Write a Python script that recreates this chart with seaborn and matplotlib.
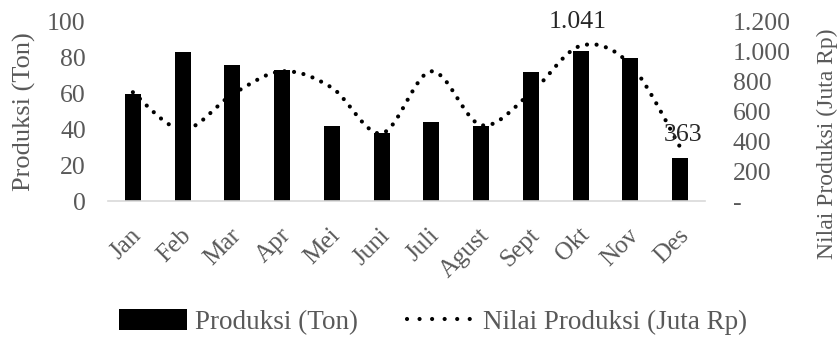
import numpy as np
import pandas as pd
import matplotlib
matplotlib.use("Agg")
import matplotlib.pyplot as plt
import seaborn as sns
from matplotlib.path import Path
from matplotlib.patches import PathPatch, Patch
from matplotlib.lines import Line2D
from matplotlib.ticker import FuncFormatter, MultipleLocator
from matplotlib.transforms import offset_copy

months = ["Jan", "Feb", "Mar", "Apr", "Mei", "Juni", "Juli", "Agust", "Sept", "Okt", "Nov", "Des"]
produksi = [60, 83, 76, 73, 42, 38, 44, 42, 72, 84, 80, 24]
nilai = [730, 480, 715, 870, 760, 455, 870, 510, 725, 1041, 915, 363]

sns.set_theme(style="white")
plt.rcParams["font.family"] = ["Liberation Serif", "DejaVu Serif"]
gray = "#595959"

fig = plt.figure(figsize=(8.4, 3.4), dpi=100)
ax = fig.add_axes([108 / 840, 1 - 201.3 / 340, 597 / 840, 179.3 / 340])

df = pd.DataFrame({"Bulan": months, "Produksi": produksi, "Nilai": nilai})
sns.barplot(data=df, x="Bulan", y="Produksi", color="black", width=0.32,
            saturation=1, ax=ax, edgecolor="none")
ax.set_ylim(0, 100)
ax.set_xlim(-0.5, 11.5)
ax.yaxis.set_major_locator(MultipleLocator(20))
ax.set_xlabel("")
ax.set_ylabel("Produksi (Ton)", fontsize=19, color=gray, labelpad=8)
for s in ["top", "right", "left"]:
    ax.spines[s].set_visible(False)
ax.spines["bottom"].set_color("#d9d9d9")
ax.spines["bottom"].set_linewidth(1.2)
ax.tick_params(axis="y", length=0, labelsize=18.5, labelcolor=gray, pad=16)
ax.tick_params(axis="x", length=0, labelsize=18, labelcolor=gray, pad=22)
for lbl in ax.get_xticklabels():
    lbl.set_rotation(45)
    lbl.set_ha("right")
    lbl.set_va("center")
    lbl.set_rotation_mode("anchor")
    lbl.set_transform(offset_copy(lbl.get_transform(), fig=fig, x=5, y=0, units="dots"))

ax2 = ax.twinx()
ax2.set_ylim(0, 1200)
ax2.yaxis.set_major_locator(MultipleLocator(200))
ax2.yaxis.set_major_formatter(FuncFormatter(
    lambda v, p: "-" if abs(v) < 1e-9 else f"{int(v):,}".replace(",", ".")))
for s in ["top", "right", "left", "bottom"]:
    ax2.spines[s].set_visible(False)
ax2.tick_params(axis="y", length=0, labelsize=18.5, labelcolor=gray, pad=20)
for lbl in ax2.get_yticklabels():
    lbl.set_ha("left")

# smooth (Excel-style) curve through the data points
xs = np.arange(len(nilai), dtype=float)
ys = np.array(nilai, dtype=float)
verts = [(xs[0], ys[0])]
codes = [Path.MOVETO]
n = len(xs)
for i in range(n - 1):
    p0 = np.array([xs[max(i - 1, 0)], ys[max(i - 1, 0)]])
    p1 = np.array([xs[i], ys[i]])
    p2 = np.array([xs[i + 1], ys[i + 1]])
    p3 = np.array([xs[min(i + 2, n - 1)], ys[min(i + 2, n - 1)]])
    c1 = p1 + (p2 - p0) / 6.0
    c2 = p2 - (p3 - p1) / 6.0
    verts += [tuple(c1), tuple(c2), tuple(p2)]
    codes += [Path.CURVE4, Path.CURVE4, Path.CURVE4]
patch = PathPatch(Path(verts, codes), fill=False, edgecolor="black",
                  linewidth=3.0, linestyle=(0, (0.01, 2.3)), capstyle="round")
ax2.add_patch(patch)

# data labels
fmt = lambda v: f"{int(v):,}".replace(",", ".")
ax2.annotate(fmt(nilai[9]), (9, nilai[9]), xytext=(-2, 17), textcoords="offset points",
             ha="center", va="center", fontsize=18.5, color="#262626")
ax2.annotate(fmt(nilai[11]), (11, nilai[11]), xytext=(2, 9), textcoords="offset points",
             ha="center", va="center", fontsize=18.5, color="#262626")

fig.text(827 / 840, 1 - 144 / 340, "Nilai Produksi (Juta Rp)", fontsize=17, color=gray,
         rotation=90, ha="center", va="center")

handles = [Patch(facecolor="black", edgecolor="none"),
           Line2D([0], [0], color="black", linewidth=3.0, linestyle=(0, (0.01, 3.0)),
                  dash_capstyle="round")]
fig.legend(handles, ["Produksi (Ton)", "Nilai Produksi (Juta Rp)"],
           loc="center", bbox_to_anchor=(433 / 840, 1 - 322 / 340), ncol=2,
           frameon=False, fontsize=19.5, labelcolor=gray, handlelength=2.5,
           handleheight=0.8, handletextpad=0.3, columnspacing=1.8)

fig.savefig("out.png", dpi=100)
